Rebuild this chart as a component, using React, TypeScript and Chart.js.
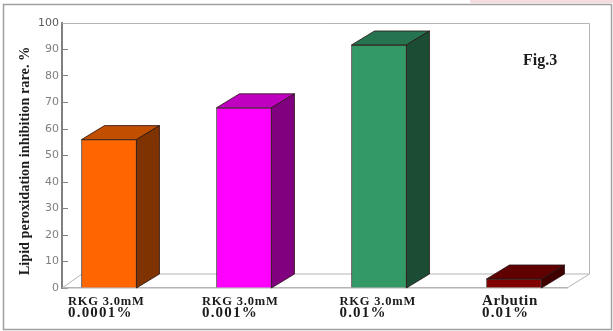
import React, { useEffect, useRef } from "react";
import { Chart, registerables } from "chart.js";

Chart.register(...registerables);

const categories = ["RKG 3.0mM", "RKG 3.0mM", "RKG 3.0mM", "Arbutin"];
const concentrations = ["0.0001%", "0.001%", "0.01%", "0.01%"];
const positions = [0, 1, 2, 3];
const values = [56, 68, 91.7, 3.4];
const frontColors = ["#ff6600", "#ff00ff", "#339966", "#800000"];
const topColors = ["#c24e00", "#c000c0", "#267350", "#600000"];
const sideColors = ["#7f3300", "#800080", "#1a4d33", "#400000"];
const yTitle = "Lipid peroxidation inhibition rare. %";
const figLabel = "Fig.3";

const DX = 23;
const DY = 14;
const WALL = "#b4b4b4";

const chrome = {
  id: "chrome",
  beforeDatasetsDraw(chart: any) {
    const { ctx, chartArea: a } = chart;
    ctx.save();
    ctx.fillStyle = "#f6dcdc";
    ctx.fillRect(470, 0, 143, 3);
    ctx.strokeStyle = "#a0a0a0";
    ctx.lineWidth = 1.5;
    ctx.strokeRect(3.5, 4.5, 608, 325);
    ctx.strokeStyle = WALL;
    ctx.lineWidth = 1;
    ctx.beginPath();
    ctx.moveTo(a.left, a.top + 0.5);
    ctx.lineTo(a.right + DX - 0.5, a.top + 0.5);
    ctx.lineTo(a.right + DX - 0.5, a.bottom - DY);
    ctx.lineTo(a.left + DX - 3, a.bottom - DY);
    ctx.moveTo(a.right + DX - 0.5, a.bottom - DY);
    ctx.lineTo(a.right, a.bottom);
    ctx.moveTo(a.left, a.bottom);
    ctx.lineTo(a.left + DX - 3, a.bottom - DY);
    ctx.stroke();
    ctx.restore();
  },
  afterDatasetsDraw(chart: any) {
    const { ctx } = chart;
    const meta = chart.getDatasetMeta(0);
    const zero = chart.scales.y.getPixelForValue(0);
    ctx.save();
    ctx.lineWidth = 1;
    ctx.strokeStyle = "rgba(40,20,20,0.8)";
    meta.data.forEach((bar: any, i: number) => {
      const h = bar.width / 2;
      const l = bar.x - h;
      const r = bar.x + h;
      const t = bar.y;
      ctx.fillStyle = topColors[i];
      ctx.beginPath();
      ctx.moveTo(l, t);
      ctx.lineTo(l + DX, t - DY);
      ctx.lineTo(r + DX, t - DY);
      ctx.lineTo(r, t);
      ctx.closePath();
      ctx.fill();
      ctx.stroke();
      ctx.fillStyle = sideColors[i];
      ctx.beginPath();
      ctx.moveTo(r, t);
      ctx.lineTo(r + DX, t - DY);
      ctx.lineTo(r + DX, zero - DY);
      ctx.lineTo(r, zero);
      ctx.closePath();
      ctx.fill();
      ctx.stroke();
    });
    ctx.restore();
  },
  afterDraw(chart: any) {
    const { ctx } = chart;
    const x = chart.scales.x;
    const labelOffsets = [-41, -42, -39.5, -32];
    ctx.save();
    ctx.fillStyle = "#1c1c1c";
    ctx.textBaseline = "alphabetic";
    positions.forEach((p, i) => {
      const px = x.getPixelForValue(p) + labelOffsets[i];
      const isRkg = categories[i].startsWith("RKG");
      ctx.font = isRkg ? "bold 12.5px 'Liberation Serif'" : "bold 15px 'Liberation Serif'";
      ctx.letterSpacing = isRkg ? "0.8px" : "0.6px";
      ctx.fillText(categories[i], px, 305);
      ctx.font = "bold 15px 'Liberation Serif'";
      ctx.letterSpacing = "1.2px";
      ctx.fillText(concentrations[i], px, 317);
    });
    ctx.letterSpacing = "0px";
    ctx.font = "bold 16px 'Liberation Serif'";
    ctx.fillText(figLabel, 523, 65);
    ctx.translate(29, 161);
    ctx.rotate(-Math.PI / 2);
    ctx.textAlign = "center";
    ctx.font = "bold 14.3px 'Liberation Serif'";
    ctx.fillText(yTitle, 0, 0);
    ctx.restore();
  },
};

export default function App() {
  const ref = useRef<HTMLCanvasElement>(null);
  useEffect(() => {
    const chart = new Chart(ref.current!, {
      type: "bar",
      data: {
        datasets: [
          {
            data: positions.map((p, i) => ({ x: p, y: values[i] })),
            backgroundColor: frontColors,
            borderColor: "rgba(40,20,20,0.8)",
            borderWidth: 1,
            barThickness: 55,
          },
        ],
      },
      options: {
        responsive: false,
        animation: false,
        devicePixelRatio: 1,
        layout: { padding: { top: 23, right: 46, left: 0, bottom: 0 } },
        plugins: { legend: { display: false }, tooltip: { enabled: false } },
        scales: {
          x: {
            type: "linear",
            offset: false,
            min: -0.348,
            max: 3.393,
            ticks: { display: false },
            grid: { display: false },
            border: { color: WALL, width: 1.5 },
            afterFit(s: any) {
              s.height = 43;
            },
          },
          y: {
            min: 0,
            max: 100,
            ticks: {
              stepSize: 10,
              padding: 9,
              color: (c: any) => (c.tick && c.tick.value === 100 ? "#5a5a5a" : "#808080"),
              font: { family: "'DejaVu Sans'", size: 11 },
            },
            grid: { drawOnChartArea: false, tickLength: -6, color: "#808080" },
            border: { color: "#808080", width: 2 },
            afterFit(s: any) {
              s.width = 62;
            },
          },
        },
      },
      plugins: [chrome],
    } as any);
    return () => chart.destroy();
  }, []);
  return (
    <canvas
      ref={ref}
      width={613}
      height={331}
      style={{ position: "fixed", left: 0, top: 0, width: 613, height: 331, filter: "blur(0.4px)" }}
    />
  );
}
